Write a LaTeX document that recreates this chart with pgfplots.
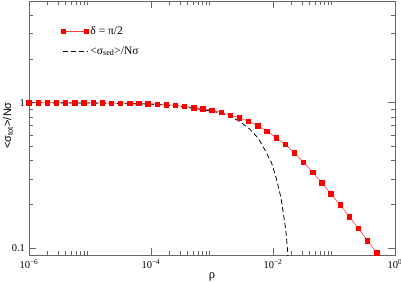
\documentclass[border=0pt]{standalone}
\usepackage{fontspec}
\setmainfont{Liberation Serif}
\newfontfamily\lsans{Liberation Sans}
\usepackage{pgfplots}
\pgfplotsset{compat=1.18}
\pgfplotsset{
 redleg/.style={legend image code/.code={\draw[mark repeat=2,mark phase=1,##1] plot coordinates {(0bp,0bp)(11.5bp,0bp)(23bp,0bp)};}},
 dashleg/.style={legend image code/.code={\draw[##1] (0bp,0bp) -- (25bp,0bp);}}
}
\begin{document}
\begin{tikzpicture}
\begin{axis}[
 scale only axis, width=366bp, height=254bp,
 xmode=log, ymode=log,
 xmin=1e-6, xmax=1, ymin=0.09, ymax=5,
 xtick={1e-6,1e-4,1e-2,1},
 xticklabels={10\textsuperscript{−6},10\textsuperscript{−4},10\textsuperscript{−2},10\textsuperscript{0}},
 minor xtick={2e-6,3e-6,4e-6,5e-6,6e-6,7e-6,8e-6,9e-6,2e-4,3e-4,4e-4,5e-4,6e-4,7e-4,8e-4,9e-4,2e-2,3e-2,4e-2,5e-2,6e-2,7e-2,8e-2,9e-2},
 ytick={0.1,1}, yticklabels={0.1,1},
 minor ytick={0.2,0.3,0.4,0.5,0.6,0.7,0.8,0.9,2,3,4,5},
 tick align=inside,
 major tick length=7bp, minor tick length=4bp,
 axis line style={black!60, line width=0.8bp},
 tick style={black!60, line width=0.7bp},
 tick label style={font=\fontsize{10.5bp}{12bp}\selectfont},
 xticklabel style={yshift=-1.5bp},
 yticklabel style={xshift=-0.5bp},
 xlabel={ρ},
 xlabel style={font=\fontsize{12.5bp}{14bp}\selectfont, at={(rel axis cs:0.5,-0.0906)}, anchor=base},
 ylabel={\lsans <σ\textsubscript{tot}>/Nσ},
 ylabel style={font=\fontsize{11bp}{13bp}\selectfont, at={(rel axis cs:-0.0574,0.51)}, anchor=center},
 legend style={draw=none, fill=none, at={(rel axis cs:0.0866,0.908)}, anchor=north west,
   font=\fontsize{11.5bp}{13bp}\selectfont, row sep=6.5bp, inner sep=0pt,
   nodes={inner sep=2bp}},
 legend cell align=left,
]
\coordinate (BL) at (rel axis cs:0,0);
\coordinate (TR) at (rel axis cs:1,1);
\addplot[red!75, line width=0.6bp, mark=square*, mark size=2.2bp,
  mark options={solid, fill=red, draw=red}, redleg]
coordinates {
(1e-6,1.0)(1.413e-6,1.0)(1.995e-6,1.0)(2.818e-6,1.0)(3.981e-6,1.0)(5.623e-6,0.999)
(7.943e-6,0.999)(1.122e-5,0.998)(1.585e-5,0.997)(2.239e-5,0.996)(3.162e-5,0.994)
(4.467e-5,0.992)(6.310e-5,0.989)(8.913e-5,0.985)(1.259e-4,0.979)(1.778e-4,0.970)
(2.512e-4,0.958)(3.548e-4,0.943)(5.012e-4,0.925)(7.079e-4,0.910)(1e-3,0.891)
(1.413e-3,0.859)(1.995e-3,0.823)(2.818e-3,0.789)(3.981e-3,0.746)(5.623e-3,0.695)
(7.943e-3,0.639)(1.122e-2,0.575)(1.585e-2,0.518)(2.239e-2,0.454)(3.162e-2,0.390)
(4.467e-2,0.333)(6.310e-2,0.282)(8.913e-2,0.237)(0.1259,0.199)(0.1778,0.165)
(0.2512,0.137)(0.3548,0.113)(0.5012,0.093)
};
\addlegendentry{δ = π/2}
\addplot[black, line width=0.8bp, dash pattern=on 5bp off 3bp, dashleg]
coordinates {
(1e-6,1.0)(1e-5,0.996)(1e-4,0.978)(3e-4,0.945)(6e-4,0.905)(1e-3,0.875)
(1.35e-3,0.852)(1.97e-3,0.81)(2.88e-3,0.741)(4.2e-3,0.657)(5.74e-3,0.57)
(7.39e-3,0.474)(9.53e-3,0.384)(1.15e-2,0.295)(1.34e-2,0.226)(1.48e-2,0.174)
(1.62e-2,0.134)(1.74e-2,0.095)(1.78e-2,0.08)
};
\addlegendentry{<σ\textsubscript{sed}>/Nσ}
\end{axis}
\pgfresetboundingbox
\path ([shift={(-29bp,-28bp)}]BL) rectangle ([shift={(6bp,1bp)}]TR);
\end{tikzpicture}
\end{document}
